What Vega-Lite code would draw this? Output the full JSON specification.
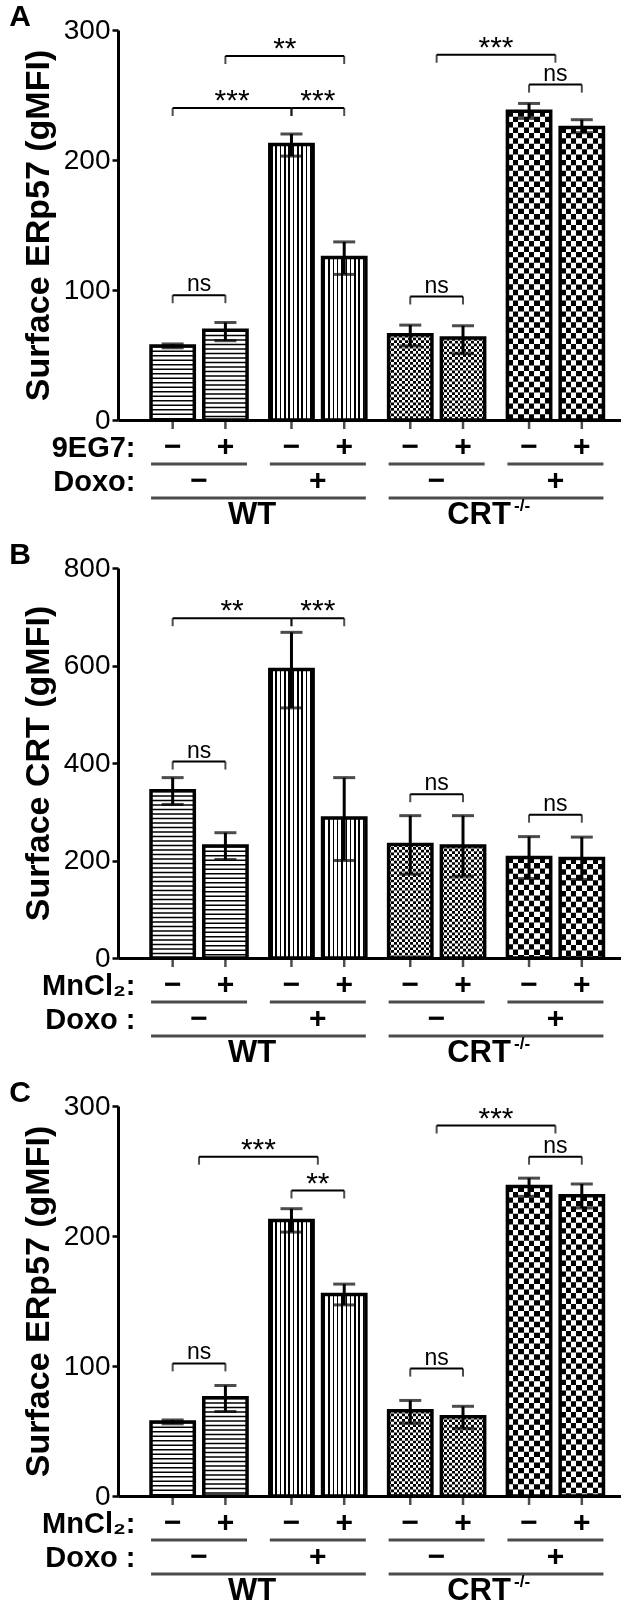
{
"$schema":"https://vega.github.io/schema/vega-lite/v6.json",
"padding":{"left":9,"top":2,"right":0,"bottom":0},
"spacing":0,
"bounds":"flush",
"background":"#ffffff",
"datasets":{
"bars":[
{"panel":"A","grp":"W0","trt":"−","doxo":"−","mean":57,"lo":55.5,"hi":58.5},
{"panel":"A","grp":"W0","trt":"+","doxo":"−","mean":69,"lo":61,"hi":75},
{"panel":"A","grp":"W1","trt":"−","doxo":"+","mean":212,"lo":203,"hi":220},
{"panel":"A","grp":"W1","trt":"+","doxo":"+","mean":125,"lo":112,"hi":137},
{"panel":"A","grp":"K0","trt":"−","doxo":"−","mean":65.5,"lo":57,"hi":73},
{"panel":"A","grp":"K0","trt":"+","doxo":"−","mean":63,"lo":51,"hi":72.5},
{"panel":"A","grp":"K1","trt":"−","doxo":"+","mean":237.5,"lo":232,"hi":243.5},
{"panel":"A","grp":"K1","trt":"+","doxo":"+","mean":225,"lo":221,"hi":231},
{"panel":"B","grp":"W0","trt":"−","doxo":"−","mean":343,"lo":315,"hi":370},
{"panel":"B","grp":"W0","trt":"+","doxo":"−","mean":230,"lo":202,"hi":257},
{"panel":"B","grp":"W1","trt":"−","doxo":"+","mean":592,"lo":513,"hi":668},
{"panel":"B","grp":"W1","trt":"+","doxo":"+","mean":287,"lo":200,"hi":370},
{"panel":"B","grp":"K0","trt":"−","doxo":"−","mean":233,"lo":172,"hi":292},
{"panel":"B","grp":"K0","trt":"+","doxo":"−","mean":230,"lo":168,"hi":292},
{"panel":"B","grp":"K1","trt":"−","doxo":"+","mean":206,"lo":163,"hi":249},
{"panel":"B","grp":"K1","trt":"+","doxo":"+","mean":204,"lo":161,"hi":248},
{"panel":"C","grp":"W0","trt":"−","doxo":"−","mean":57,"lo":55.5,"hi":58.5},
{"panel":"C","grp":"W0","trt":"+","doxo":"−","mean":75.5,"lo":65,"hi":85},
{"panel":"C","grp":"W1","trt":"−","doxo":"+","mean":212,"lo":203,"hi":221},
{"panel":"C","grp":"W1","trt":"+","doxo":"+","mean":155,"lo":147,"hi":163},
{"panel":"C","grp":"K0","trt":"−","doxo":"−","mean":65.5,"lo":56,"hi":73.5},
{"panel":"C","grp":"K0","trt":"+","doxo":"−","mean":61,"lo":52,"hi":69},
{"panel":"C","grp":"K1","trt":"−","doxo":"+","mean":238,"lo":230.5,"hi":244.5},
{"panel":"C","grp":"K1","trt":"+","doxo":"+","mean":231,"lo":221.5,"hi":240}
],
"ends":[
{"panel":"A","id":"a1","g":"W0","a":"−","h":96},{"panel":"A","id":"a1","g":"W0","a":"+","h":96},
{"panel":"A","id":"a2","g":"W0","a":"−","h":240},{"panel":"A","id":"a2","g":"W1","a":"−","h":240},
{"panel":"A","id":"a3","g":"W1","a":"−","h":240},{"panel":"A","id":"a3","g":"W1","a":"+","h":240},
{"panel":"A","id":"a4","g":"W0","a":"+","h":280},{"panel":"A","id":"a4","g":"W1","a":"+","h":280},
{"panel":"A","id":"a5","g":"K0","a":"−","h":95},{"panel":"A","id":"a5","g":"K0","a":"+","h":95},
{"panel":"A","id":"a6","g":"K0","a":"c","h":281},{"panel":"A","id":"a6","g":"K1","a":"c","h":281},
{"panel":"A","id":"a7","g":"K1","a":"−","h":258},{"panel":"A","id":"a7","g":"K1","a":"+","h":258},
{"panel":"B","id":"b1","g":"W0","a":"−","h":403},{"panel":"B","id":"b1","g":"W0","a":"+","h":403},
{"panel":"B","id":"b2","g":"W0","a":"−","h":697},{"panel":"B","id":"b2","g":"W1","a":"−","h":697},
{"panel":"B","id":"b3","g":"W1","a":"−","h":697},{"panel":"B","id":"b3","g":"W1","a":"+","h":697},
{"panel":"B","id":"b4","g":"K0","a":"−","h":336},{"panel":"B","id":"b4","g":"K0","a":"+","h":336},
{"panel":"B","id":"b5","g":"K1","a":"−","h":294},{"panel":"B","id":"b5","g":"K1","a":"+","h":294},
{"panel":"C","id":"c1","g":"W0","a":"−","h":102},{"panel":"C","id":"c1","g":"W0","a":"+","h":102},
{"panel":"C","id":"c2","g":"W0","a":"c","h":261},{"panel":"C","id":"c2","g":"W1","a":"c","h":261},
{"panel":"C","id":"c3","g":"W1","a":"−","h":235},{"panel":"C","id":"c3","g":"W1","a":"+","h":235},
{"panel":"C","id":"c4","g":"K0","a":"−","h":98},{"panel":"C","id":"c4","g":"K0","a":"+","h":98},
{"panel":"C","id":"c5","g":"K0","a":"c","h":285},{"panel":"C","id":"c5","g":"K1","a":"c","h":285},
{"panel":"C","id":"c6","g":"K1","a":"−","h":261},{"panel":"C","id":"c6","g":"K1","a":"+","h":261}
],
"labs":[
{"panel":"A","g":"W0","a":"c","h":96,"lab":"ns","span":"in"},
{"panel":"A","g":"W0","a":"−","h":240,"lab":"***","span":"x"},
{"panel":"A","g":"W1","a":"c","h":240,"lab":"***","span":"in"},
{"panel":"A","g":"W0","a":"+","h":280,"lab":"**","span":"x"},
{"panel":"A","g":"K0","a":"c","h":95,"lab":"ns","span":"in"},
{"panel":"A","g":"K0","a":"c","h":281,"lab":"***","span":"x"},
{"panel":"A","g":"K1","a":"c","h":258,"lab":"ns","span":"in"},
{"panel":"B","g":"W0","a":"c","h":403,"lab":"ns","span":"in"},
{"panel":"B","g":"W0","a":"−","h":697,"lab":"**","span":"x"},
{"panel":"B","g":"W1","a":"c","h":697,"lab":"***","span":"in"},
{"panel":"B","g":"K0","a":"c","h":336,"lab":"ns","span":"in"},
{"panel":"B","g":"K1","a":"c","h":294,"lab":"ns","span":"in"},
{"panel":"C","g":"W0","a":"c","h":102,"lab":"ns","span":"in"},
{"panel":"C","g":"W0","a":"c","h":261,"lab":"***","span":"x"},
{"panel":"C","g":"W1","a":"c","h":235,"lab":"**","span":"in"},
{"panel":"C","g":"K0","a":"c","h":98,"lab":"ns","span":"in"},
{"panel":"C","g":"K0","a":"c","h":285,"lab":"***","span":"x"},
{"panel":"C","g":"K1","a":"c","h":261,"lab":"ns","span":"in"}
],
"genos":[
{"geno":"WT","g1":"W0","g2":"W1","lab":"WT"},
{"geno":"KO","g1":"K0","g2":"K1","lab":"CRT","sup":"-/-"}
]
},
"vconcat":[
{"width":503,"height":390,"title":{"text":"A"},
"layer":[
{"data":{"name":"bars"},"transform":[{"filter":"datum.panel=='A'"}],"mark":{"type":"bar","fill":"#fff"},
"encoding":{"x":{"field":"grp","type":"nominal","title":null,"scale":{"domain":["W0","W1","K0","K1"],"paddingInner":0.1915,"paddingOuter":0.2128,"align":0.653}},
"xOffset":{"field":"trt","type":"nominal","scale":{"domain":["−","+"],"paddingInner":0.1791,"paddingOuter":0}},
"y":{"field":"mean","type":"quantitative","scale":{"domain":[0,300],"nice":false},"axis":{"title":"Surface ERp57 (gMFI)","values":[0,100,200,300]}}}},
{"data":{"name":"bars"},"transform":[{"filter":"datum.panel=='A' && datum.grp=='W0'"}],"mark":{"type":"rule","color":"#000","strokeWidth":43.3,"strokeDash":[1.5,3.0]},
"encoding":{"x":{"field":"grp","type":"nominal","title":null},"xOffset":{"field":"trt","type":"nominal"},"y":{"field":"mean","type":"quantitative"},"y2":{"datum":0}}},
{"data":{"name":"bars"},"transform":[{"filter":"datum.panel=='A' && datum.grp=='W1'"}],"mark":{"type":"bar","fill":{"gradient":"linear","x1":0,"y1":0,"x2":1,"y2":0,"stops":[{"offset":0.03,"color":"#fff"},{"offset":0.03,"color":"#000"},{"offset":0.065,"color":"#000"},{"offset":0.065,"color":"#fff"},{"offset":0.13,"color":"#fff"},{"offset":0.13,"color":"#000"},{"offset":0.165,"color":"#000"},{"offset":0.165,"color":"#fff"},{"offset":0.23,"color":"#fff"},{"offset":0.23,"color":"#000"},{"offset":0.265,"color":"#000"},{"offset":0.265,"color":"#fff"},{"offset":0.33,"color":"#fff"},{"offset":0.33,"color":"#000"},{"offset":0.365,"color":"#000"},{"offset":0.365,"color":"#fff"},{"offset":0.43,"color":"#fff"},{"offset":0.43,"color":"#000"},{"offset":0.465,"color":"#000"},{"offset":0.465,"color":"#fff"},{"offset":0.53,"color":"#fff"},{"offset":0.53,"color":"#000"},{"offset":0.565,"color":"#000"},{"offset":0.565,"color":"#fff"},{"offset":0.63,"color":"#fff"},{"offset":0.63,"color":"#000"},{"offset":0.665,"color":"#000"},{"offset":0.665,"color":"#fff"},{"offset":0.73,"color":"#fff"},{"offset":0.73,"color":"#000"},{"offset":0.765,"color":"#000"},{"offset":0.765,"color":"#fff"},{"offset":0.83,"color":"#fff"},{"offset":0.83,"color":"#000"},{"offset":0.865,"color":"#000"},{"offset":0.865,"color":"#fff"},{"offset":0.93,"color":"#fff"},{"offset":0.93,"color":"#000"},{"offset":0.965,"color":"#000"},{"offset":0.965,"color":"#fff"}]}},
"encoding":{"x":{"field":"grp","type":"nominal","title":null},"xOffset":{"field":"trt","type":"nominal"},"y":{"field":"mean","type":"quantitative"}}},
{"data":{"name":"bars"},"transform":[{"filter":"datum.panel=='A' && datum.grp=='K0'"}],"mark":{"type":"rule","color":"#000","strokeWidth":43.3,"strokeDash":[2.71,2.71]},
"encoding":{"x":{"field":"grp","type":"nominal","title":null},"xOffset":{"field":"trt","type":"nominal"},"y":{"field":"mean","type":"quantitative"},"y2":{"datum":0}}},
{"data":{"name":"bars"},"transform":[{"filter":"datum.panel=='A' && datum.grp=='K0'"}],"mark":{"type":"bar","blend":"difference","fill":{"gradient":"linear","x1":0,"y1":0,"x2":1,"y2":0,"stops":[{"offset":0,"color":"#000"},{"offset":0.0625,"color":"#000"},{"offset":0.0625,"color":"#fff"},{"offset":0.125,"color":"#fff"},{"offset":0.125,"color":"#000"},{"offset":0.1875,"color":"#000"},{"offset":0.1875,"color":"#fff"},{"offset":0.25,"color":"#fff"},{"offset":0.25,"color":"#000"},{"offset":0.3125,"color":"#000"},{"offset":0.3125,"color":"#fff"},{"offset":0.375,"color":"#fff"},{"offset":0.375,"color":"#000"},{"offset":0.4375,"color":"#000"},{"offset":0.4375,"color":"#fff"},{"offset":0.5,"color":"#fff"},{"offset":0.5,"color":"#000"},{"offset":0.5625,"color":"#000"},{"offset":0.5625,"color":"#fff"},{"offset":0.625,"color":"#fff"},{"offset":0.625,"color":"#000"},{"offset":0.6875,"color":"#000"},{"offset":0.6875,"color":"#fff"},{"offset":0.75,"color":"#fff"},{"offset":0.75,"color":"#000"},{"offset":0.8125,"color":"#000"},{"offset":0.8125,"color":"#fff"},{"offset":0.875,"color":"#fff"},{"offset":0.875,"color":"#000"},{"offset":0.9375,"color":"#000"},{"offset":0.9375,"color":"#fff"},{"offset":1,"color":"#fff"}]}},
"encoding":{"x":{"field":"grp","type":"nominal","title":null},"xOffset":{"field":"trt","type":"nominal"},"y":{"field":"mean","type":"quantitative"}}},
{"data":{"name":"bars"},"transform":[{"filter":"datum.panel=='A' && datum.grp=='K1'"}],"mark":{"type":"rule","color":"#000","strokeWidth":43.3,"strokeDash":[5.41,5.41]},
"encoding":{"x":{"field":"grp","type":"nominal","title":null},"xOffset":{"field":"trt","type":"nominal"},"y":{"field":"mean","type":"quantitative"},"y2":{"datum":0}}},
{"data":{"name":"bars"},"transform":[{"filter":"datum.panel=='A' && datum.grp=='K1'"}],"mark":{"type":"bar","blend":"difference","fill":{"gradient":"linear","x1":0,"y1":0,"x2":1,"y2":0,"stops":[{"offset":0,"color":"#000"},{"offset":0.125,"color":"#000"},{"offset":0.125,"color":"#fff"},{"offset":0.25,"color":"#fff"},{"offset":0.25,"color":"#000"},{"offset":0.375,"color":"#000"},{"offset":0.375,"color":"#fff"},{"offset":0.5,"color":"#fff"},{"offset":0.5,"color":"#000"},{"offset":0.625,"color":"#000"},{"offset":0.625,"color":"#fff"},{"offset":0.75,"color":"#fff"},{"offset":0.75,"color":"#000"},{"offset":0.875,"color":"#000"},{"offset":0.875,"color":"#fff"},{"offset":1,"color":"#fff"}]}},
"encoding":{"x":{"field":"grp","type":"nominal","title":null},"xOffset":{"field":"trt","type":"nominal"},"y":{"field":"mean","type":"quantitative"}}},
{"data":{"name":"bars"},"transform":[{"filter":"datum.panel=='A'"}],"mark":{"type":"bar","fillOpacity":0,"stroke":"#000","strokeWidth":3.5},
"encoding":{"x":{"field":"grp","type":"nominal","title":null},"xOffset":{"field":"trt","type":"nominal"},"y":{"field":"mean","type":"quantitative"}}},
{"data":{"name":"bars"},"transform":[{"filter":"datum.panel=='A'"}],"mark":{"type":"rule","color":"#000","strokeWidth":3},
"encoding":{"x":{"field":"grp","type":"nominal","title":null},"xOffset":{"field":"trt","type":"nominal"},"y":{"field":"lo","type":"quantitative"},"y2":{"field":"hi"}}},
{"data":{"name":"bars"},"transform":[{"filter":"datum.panel=='A'"}],"mark":{"type":"tick","orient":"horizontal","color":"#000","size":22,"thickness":3},
"encoding":{"x":{"field":"grp","type":"nominal","title":null},"xOffset":{"field":"trt","type":"nominal"},"y":{"field":"hi","type":"quantitative"}}},
{"data":{"name":"bars"},"transform":[{"filter":"datum.panel=='A'"}],"mark":{"type":"tick","orient":"horizontal","color":"#000","size":22,"thickness":3},
"encoding":{"x":{"field":"grp","type":"nominal","title":null},"xOffset":{"field":"trt","type":"nominal"},"y":{"field":"lo","type":"quantitative"}}},
{"data":{"name":"bars"},"transform":[{"filter":"datum.panel=='A'"}],"mark":{"type":"tick","orient":"vertical","color":"#000","size":9,"thickness":2.5,"yOffset":4.5},
"encoding":{"x":{"field":"grp","type":"nominal","title":null},"xOffset":{"field":"trt","type":"nominal"},"y":{"datum":0}}},
{"data":{"name":"ends"},"transform":[{"filter":"datum.panel=='A' && datum.a!='c'"}],"mark":{"type":"line","color":"#000","strokeWidth":2},
"encoding":{"x":{"field":"g","type":"nominal","title":null},"xOffset":{"field":"a","type":"nominal"},"y":{"field":"h","type":"quantitative"},"detail":{"field":"id"}}},
{"data":{"name":"ends"},"transform":[{"filter":"datum.panel=='A' && datum.a=='c'"}],"mark":{"type":"line","color":"#000","strokeWidth":2},
"encoding":{"x":{"field":"g","type":"nominal","title":null},"y":{"field":"h","type":"quantitative"},"detail":{"field":"id"}}},
{"data":{"name":"ends"},"transform":[{"filter":"datum.panel=='A' && datum.a!='c'"}],"mark":{"type":"tick","orient":"vertical","color":"#000","size":8,"thickness":2,"yOffset":4},
"encoding":{"x":{"field":"g","type":"nominal","title":null},"xOffset":{"field":"a","type":"nominal"},"y":{"field":"h","type":"quantitative"}}},
{"data":{"name":"ends"},"transform":[{"filter":"datum.panel=='A' && datum.a=='c'"}],"mark":{"type":"tick","orient":"vertical","color":"#000","size":8,"thickness":2,"yOffset":4},
"encoding":{"x":{"field":"g","type":"nominal","title":null},"y":{"field":"h","type":"quantitative"}}},
{"data":{"name":"labs"},"transform":[{"filter":"datum.panel=='A' && datum.lab=='ns'"}],"mark":{"type":"text","font":"Liberation Sans","fontSize":23,"color":"#000","baseline":"alphabetic","dy":-4},
"encoding":{"x":{"field":"g","type":"nominal","title":null},"y":{"field":"h","type":"quantitative"},"text":{"field":"lab"}}},
{"data":{"name":"labs"},"transform":[{"filter":"datum.panel=='A' && datum.lab!='ns' && datum.span=='in'"}],"mark":{"type":"text","font":"Liberation Sans","fontSize":30,"color":"#000","baseline":"alphabetic","dy":2},
"encoding":{"x":{"field":"g","type":"nominal","title":null},"y":{"field":"h","type":"quantitative"},"text":{"field":"lab"}}},
{"data":{"name":"labs"},"transform":[{"filter":"datum.panel=='A' && datum.span=='x' && datum.a!='c'"}],"mark":{"type":"text","font":"Liberation Sans","fontSize":30,"color":"#000","baseline":"alphabetic","dy":2,"dx":59.4},
"encoding":{"x":{"field":"g","type":"nominal","title":null},"xOffset":{"field":"a","type":"nominal"},"y":{"field":"h","type":"quantitative"},"text":{"field":"lab"}}},
{"data":{"name":"labs"},"transform":[{"filter":"datum.panel=='A' && datum.span=='x' && datum.a=='c'"}],"mark":{"type":"text","font":"Liberation Sans","fontSize":30,"color":"#000","baseline":"alphabetic","dy":2,"dx":59.4},
"encoding":{"x":{"field":"g","type":"nominal","title":null},"y":{"field":"h","type":"quantitative"},"text":{"field":"lab"}}}
]},
{"width":503,"height":148,
"layer":[
{"data":{"name":"bars"},"transform":[{"filter":"datum.panel=='A'"}],"mark":{"type":"text","font":"Liberation Sans","fontWeight":"bold","fontSize":30,"color":"#000","baseline":"middle"},
"encoding":{"x":{"field":"grp","type":"nominal","axis":null,"scale":{"domain":["W0","W1","K0","K1"],"paddingInner":0.1915,"paddingOuter":0.2128,"align":0.653}},
"xOffset":{"field":"trt","type":"nominal","scale":{"domain":["−","+"],"paddingInner":0.1791,"paddingOuter":0}},
"y":{"datum":"r1","type":"nominal","scale":{"type":"point","domain":["r1","l1","r2","l2","r3","z1","z2","z3"],"padding":0.853,"align":0.931},"axis":{"title":null,"domain":false,"ticks":false,"labelExpr":"datum.value=='r1'?'9EG7:':datum.value=='r2'?'Doxo:':''","labelFontWeight":"bold","labelFontSize":29,"labelPadding":-17}},
"text":{"field":"trt"}}},
{"data":{"name":"bars"},"transform":[{"filter":"datum.panel=='A' && datum.trt=='−'"}],"mark":{"type":"tick","orient":"horizontal","color":"#000","size":96,"thickness":3},
"encoding":{"x":{"field":"grp","type":"nominal","axis":null},"y":{"datum":"l1","type":"nominal"}}},
{"data":{"name":"bars"},"transform":[{"filter":"datum.panel=='A' && datum.trt=='−'"}],"mark":{"type":"text","font":"Liberation Sans","fontWeight":"bold","fontSize":30,"color":"#000","baseline":"middle"},
"encoding":{"x":{"field":"grp","type":"nominal","axis":null},"y":{"datum":"r2","type":"nominal"},"text":{"field":"doxo"}}},
{"data":{"name":"genos"},"mark":{"type":"tick","orient":"horizontal","color":"#000","size":214.8,"thickness":3,"xOffset":59.4},
"encoding":{"x":{"field":"g1","type":"nominal","axis":null},"y":{"datum":"l2","type":"nominal"}}},
{"data":{"name":"genos"},"transform":[{"filter":"datum.geno=='WT'"}],"mark":{"type":"text","font":"Liberation Sans","fontWeight":"bold","fontSize":31,"color":"#000","baseline":"middle","dx":53},
"encoding":{"x":{"field":"g1","type":"nominal","axis":null},"y":{"datum":"r3","type":"nominal"},"text":{"field":"lab"}}},
{"data":{"name":"genos"},"transform":[{"filter":"datum.geno=='KO'"}],"mark":{"type":"text","font":"Liberation Sans","fontWeight":"bold","fontSize":31,"color":"#000","baseline":"middle","dx":42.4},
"encoding":{"x":{"field":"g1","type":"nominal","axis":null},"y":{"datum":"r3","type":"nominal"},"text":{"field":"lab"}}},
{"data":{"name":"genos"},"transform":[{"filter":"datum.geno=='KO'"}],"mark":{"type":"text","font":"Liberation Sans","fontWeight":"bold","fontSize":17,"color":"#000","baseline":"middle","align":"left","dx":77.4,"dy":-9},
"encoding":{"x":{"field":"g1","type":"nominal","axis":null},"y":{"datum":"r3","type":"nominal"},"text":{"field":"sup"}}}
]},
{"width":503,"height":390,"title":{"text":"B"},
"layer":[
{"data":{"name":"bars"},"transform":[{"filter":"datum.panel=='B'"}],"mark":{"type":"bar","fill":"#fff"},
"encoding":{"x":{"field":"grp","type":"nominal","title":null,"scale":{"domain":["W0","W1","K0","K1"],"paddingInner":0.1915,"paddingOuter":0.2128,"align":0.653}},
"xOffset":{"field":"trt","type":"nominal","scale":{"domain":["−","+"],"paddingInner":0.1791,"paddingOuter":0}},
"y":{"field":"mean","type":"quantitative","scale":{"domain":[0,800],"nice":false},"axis":{"title":"Surface CRT (gMFI)","values":[0,200,400,600,800]}}}},
{"data":{"name":"bars"},"transform":[{"filter":"datum.panel=='B' && datum.grp=='W0'"}],"mark":{"type":"rule","color":"#000","strokeWidth":43.3,"strokeDash":[1.5,3.0]},
"encoding":{"x":{"field":"grp","type":"nominal","title":null},"xOffset":{"field":"trt","type":"nominal"},"y":{"field":"mean","type":"quantitative"},"y2":{"datum":0}}},
{"data":{"name":"bars"},"transform":[{"filter":"datum.panel=='B' && datum.grp=='W1'"}],"mark":{"type":"bar","fill":{"gradient":"linear","x1":0,"y1":0,"x2":1,"y2":0,"stops":[{"offset":0.03,"color":"#fff"},{"offset":0.03,"color":"#000"},{"offset":0.065,"color":"#000"},{"offset":0.065,"color":"#fff"},{"offset":0.13,"color":"#fff"},{"offset":0.13,"color":"#000"},{"offset":0.165,"color":"#000"},{"offset":0.165,"color":"#fff"},{"offset":0.23,"color":"#fff"},{"offset":0.23,"color":"#000"},{"offset":0.265,"color":"#000"},{"offset":0.265,"color":"#fff"},{"offset":0.33,"color":"#fff"},{"offset":0.33,"color":"#000"},{"offset":0.365,"color":"#000"},{"offset":0.365,"color":"#fff"},{"offset":0.43,"color":"#fff"},{"offset":0.43,"color":"#000"},{"offset":0.465,"color":"#000"},{"offset":0.465,"color":"#fff"},{"offset":0.53,"color":"#fff"},{"offset":0.53,"color":"#000"},{"offset":0.565,"color":"#000"},{"offset":0.565,"color":"#fff"},{"offset":0.63,"color":"#fff"},{"offset":0.63,"color":"#000"},{"offset":0.665,"color":"#000"},{"offset":0.665,"color":"#fff"},{"offset":0.73,"color":"#fff"},{"offset":0.73,"color":"#000"},{"offset":0.765,"color":"#000"},{"offset":0.765,"color":"#fff"},{"offset":0.83,"color":"#fff"},{"offset":0.83,"color":"#000"},{"offset":0.865,"color":"#000"},{"offset":0.865,"color":"#fff"},{"offset":0.93,"color":"#fff"},{"offset":0.93,"color":"#000"},{"offset":0.965,"color":"#000"},{"offset":0.965,"color":"#fff"}]}},
"encoding":{"x":{"field":"grp","type":"nominal","title":null},"xOffset":{"field":"trt","type":"nominal"},"y":{"field":"mean","type":"quantitative"}}},
{"data":{"name":"bars"},"transform":[{"filter":"datum.panel=='B' && datum.grp=='K0'"}],"mark":{"type":"rule","color":"#000","strokeWidth":43.3,"strokeDash":[2.71,2.71]},
"encoding":{"x":{"field":"grp","type":"nominal","title":null},"xOffset":{"field":"trt","type":"nominal"},"y":{"field":"mean","type":"quantitative"},"y2":{"datum":0}}},
{"data":{"name":"bars"},"transform":[{"filter":"datum.panel=='B' && datum.grp=='K0'"}],"mark":{"type":"bar","blend":"difference","fill":{"gradient":"linear","x1":0,"y1":0,"x2":1,"y2":0,"stops":[{"offset":0,"color":"#000"},{"offset":0.0625,"color":"#000"},{"offset":0.0625,"color":"#fff"},{"offset":0.125,"color":"#fff"},{"offset":0.125,"color":"#000"},{"offset":0.1875,"color":"#000"},{"offset":0.1875,"color":"#fff"},{"offset":0.25,"color":"#fff"},{"offset":0.25,"color":"#000"},{"offset":0.3125,"color":"#000"},{"offset":0.3125,"color":"#fff"},{"offset":0.375,"color":"#fff"},{"offset":0.375,"color":"#000"},{"offset":0.4375,"color":"#000"},{"offset":0.4375,"color":"#fff"},{"offset":0.5,"color":"#fff"},{"offset":0.5,"color":"#000"},{"offset":0.5625,"color":"#000"},{"offset":0.5625,"color":"#fff"},{"offset":0.625,"color":"#fff"},{"offset":0.625,"color":"#000"},{"offset":0.6875,"color":"#000"},{"offset":0.6875,"color":"#fff"},{"offset":0.75,"color":"#fff"},{"offset":0.75,"color":"#000"},{"offset":0.8125,"color":"#000"},{"offset":0.8125,"color":"#fff"},{"offset":0.875,"color":"#fff"},{"offset":0.875,"color":"#000"},{"offset":0.9375,"color":"#000"},{"offset":0.9375,"color":"#fff"},{"offset":1,"color":"#fff"}]}},
"encoding":{"x":{"field":"grp","type":"nominal","title":null},"xOffset":{"field":"trt","type":"nominal"},"y":{"field":"mean","type":"quantitative"}}},
{"data":{"name":"bars"},"transform":[{"filter":"datum.panel=='B' && datum.grp=='K1'"}],"mark":{"type":"rule","color":"#000","strokeWidth":43.3,"strokeDash":[5.41,5.41]},
"encoding":{"x":{"field":"grp","type":"nominal","title":null},"xOffset":{"field":"trt","type":"nominal"},"y":{"field":"mean","type":"quantitative"},"y2":{"datum":0}}},
{"data":{"name":"bars"},"transform":[{"filter":"datum.panel=='B' && datum.grp=='K1'"}],"mark":{"type":"bar","blend":"difference","fill":{"gradient":"linear","x1":0,"y1":0,"x2":1,"y2":0,"stops":[{"offset":0,"color":"#000"},{"offset":0.125,"color":"#000"},{"offset":0.125,"color":"#fff"},{"offset":0.25,"color":"#fff"},{"offset":0.25,"color":"#000"},{"offset":0.375,"color":"#000"},{"offset":0.375,"color":"#fff"},{"offset":0.5,"color":"#fff"},{"offset":0.5,"color":"#000"},{"offset":0.625,"color":"#000"},{"offset":0.625,"color":"#fff"},{"offset":0.75,"color":"#fff"},{"offset":0.75,"color":"#000"},{"offset":0.875,"color":"#000"},{"offset":0.875,"color":"#fff"},{"offset":1,"color":"#fff"}]}},
"encoding":{"x":{"field":"grp","type":"nominal","title":null},"xOffset":{"field":"trt","type":"nominal"},"y":{"field":"mean","type":"quantitative"}}},
{"data":{"name":"bars"},"transform":[{"filter":"datum.panel=='B'"}],"mark":{"type":"bar","fillOpacity":0,"stroke":"#000","strokeWidth":3.5},
"encoding":{"x":{"field":"grp","type":"nominal","title":null},"xOffset":{"field":"trt","type":"nominal"},"y":{"field":"mean","type":"quantitative"}}},
{"data":{"name":"bars"},"transform":[{"filter":"datum.panel=='B'"}],"mark":{"type":"rule","color":"#000","strokeWidth":3},
"encoding":{"x":{"field":"grp","type":"nominal","title":null},"xOffset":{"field":"trt","type":"nominal"},"y":{"field":"lo","type":"quantitative"},"y2":{"field":"hi"}}},
{"data":{"name":"bars"},"transform":[{"filter":"datum.panel=='B'"}],"mark":{"type":"tick","orient":"horizontal","color":"#000","size":22,"thickness":3},
"encoding":{"x":{"field":"grp","type":"nominal","title":null},"xOffset":{"field":"trt","type":"nominal"},"y":{"field":"hi","type":"quantitative"}}},
{"data":{"name":"bars"},"transform":[{"filter":"datum.panel=='B'"}],"mark":{"type":"tick","orient":"horizontal","color":"#000","size":22,"thickness":3},
"encoding":{"x":{"field":"grp","type":"nominal","title":null},"xOffset":{"field":"trt","type":"nominal"},"y":{"field":"lo","type":"quantitative"}}},
{"data":{"name":"bars"},"transform":[{"filter":"datum.panel=='B'"}],"mark":{"type":"tick","orient":"vertical","color":"#000","size":9,"thickness":2.5,"yOffset":4.5},
"encoding":{"x":{"field":"grp","type":"nominal","title":null},"xOffset":{"field":"trt","type":"nominal"},"y":{"datum":0}}},
{"data":{"name":"ends"},"transform":[{"filter":"datum.panel=='B' && datum.a!='c'"}],"mark":{"type":"line","color":"#000","strokeWidth":2},
"encoding":{"x":{"field":"g","type":"nominal","title":null},"xOffset":{"field":"a","type":"nominal"},"y":{"field":"h","type":"quantitative"},"detail":{"field":"id"}}},
{"data":{"name":"ends"},"transform":[{"filter":"datum.panel=='B' && datum.a!='c'"}],"mark":{"type":"tick","orient":"vertical","color":"#000","size":8,"thickness":2,"yOffset":4},
"encoding":{"x":{"field":"g","type":"nominal","title":null},"xOffset":{"field":"a","type":"nominal"},"y":{"field":"h","type":"quantitative"}}},
{"data":{"name":"labs"},"transform":[{"filter":"datum.panel=='B' && datum.lab=='ns'"}],"mark":{"type":"text","font":"Liberation Sans","fontSize":23,"color":"#000","baseline":"alphabetic","dy":-4},
"encoding":{"x":{"field":"g","type":"nominal","title":null},"y":{"field":"h","type":"quantitative"},"text":{"field":"lab"}}},
{"data":{"name":"labs"},"transform":[{"filter":"datum.panel=='B' && datum.lab!='ns' && datum.span=='in'"}],"mark":{"type":"text","font":"Liberation Sans","fontSize":30,"color":"#000","baseline":"alphabetic","dy":2},
"encoding":{"x":{"field":"g","type":"nominal","title":null},"y":{"field":"h","type":"quantitative"},"text":{"field":"lab"}}},
{"data":{"name":"labs"},"transform":[{"filter":"datum.panel=='B' && datum.span=='x' && datum.a!='c'"}],"mark":{"type":"text","font":"Liberation Sans","fontSize":30,"color":"#000","baseline":"alphabetic","dy":2,"dx":59.4},
"encoding":{"x":{"field":"g","type":"nominal","title":null},"xOffset":{"field":"a","type":"nominal"},"y":{"field":"h","type":"quantitative"},"text":{"field":"lab"}}}
]},
{"width":503,"height":148,
"layer":[
{"data":{"name":"bars"},"transform":[{"filter":"datum.panel=='B'"}],"mark":{"type":"text","font":"Liberation Sans","fontWeight":"bold","fontSize":30,"color":"#000","baseline":"middle"},
"encoding":{"x":{"field":"grp","type":"nominal","axis":null,"scale":{"domain":["W0","W1","K0","K1"],"paddingInner":0.1915,"paddingOuter":0.2128,"align":0.653}},
"xOffset":{"field":"trt","type":"nominal","scale":{"domain":["−","+"],"paddingInner":0.1791,"paddingOuter":0}},
"y":{"datum":"r1","type":"nominal","scale":{"type":"point","domain":["r1","l1","r2","l2","r3","z1","z2","z3"],"padding":0.853,"align":0.931},"axis":{"title":null,"domain":false,"ticks":false,"labelExpr":"datum.value=='r1'?'MnCl₂:':datum.value=='r2'?'Doxo :':''","labelFontWeight":"bold","labelFontSize":29,"labelPadding":-17}},
"text":{"field":"trt"}}},
{"data":{"name":"bars"},"transform":[{"filter":"datum.panel=='B' && datum.trt=='−'"}],"mark":{"type":"tick","orient":"horizontal","color":"#000","size":96,"thickness":3},
"encoding":{"x":{"field":"grp","type":"nominal","axis":null},"y":{"datum":"l1","type":"nominal"}}},
{"data":{"name":"bars"},"transform":[{"filter":"datum.panel=='B' && datum.trt=='−'"}],"mark":{"type":"text","font":"Liberation Sans","fontWeight":"bold","fontSize":30,"color":"#000","baseline":"middle"},
"encoding":{"x":{"field":"grp","type":"nominal","axis":null},"y":{"datum":"r2","type":"nominal"},"text":{"field":"doxo"}}},
{"data":{"name":"genos"},"mark":{"type":"tick","orient":"horizontal","color":"#000","size":214.8,"thickness":3,"xOffset":59.4},
"encoding":{"x":{"field":"g1","type":"nominal","axis":null},"y":{"datum":"l2","type":"nominal"}}},
{"data":{"name":"genos"},"transform":[{"filter":"datum.geno=='WT'"}],"mark":{"type":"text","font":"Liberation Sans","fontWeight":"bold","fontSize":31,"color":"#000","baseline":"middle","dx":53},
"encoding":{"x":{"field":"g1","type":"nominal","axis":null},"y":{"datum":"r3","type":"nominal"},"text":{"field":"lab"}}},
{"data":{"name":"genos"},"transform":[{"filter":"datum.geno=='KO'"}],"mark":{"type":"text","font":"Liberation Sans","fontWeight":"bold","fontSize":31,"color":"#000","baseline":"middle","dx":42.4},
"encoding":{"x":{"field":"g1","type":"nominal","axis":null},"y":{"datum":"r3","type":"nominal"},"text":{"field":"lab"}}},
{"data":{"name":"genos"},"transform":[{"filter":"datum.geno=='KO'"}],"mark":{"type":"text","font":"Liberation Sans","fontWeight":"bold","fontSize":17,"color":"#000","baseline":"middle","align":"left","dx":77.4,"dy":-9},
"encoding":{"x":{"field":"g1","type":"nominal","axis":null},"y":{"datum":"r3","type":"nominal"},"text":{"field":"sup"}}}
]},
{"width":503,"height":390,"title":{"text":"C"},
"layer":[
{"data":{"name":"bars"},"transform":[{"filter":"datum.panel=='C'"}],"mark":{"type":"bar","fill":"#fff"},
"encoding":{"x":{"field":"grp","type":"nominal","title":null,"scale":{"domain":["W0","W1","K0","K1"],"paddingInner":0.1915,"paddingOuter":0.2128,"align":0.653}},
"xOffset":{"field":"trt","type":"nominal","scale":{"domain":["−","+"],"paddingInner":0.1791,"paddingOuter":0}},
"y":{"field":"mean","type":"quantitative","scale":{"domain":[0,300],"nice":false},"axis":{"title":"Surface ERp57 (gMFI)","values":[0,100,200,300]}}}},
{"data":{"name":"bars"},"transform":[{"filter":"datum.panel=='C' && datum.grp=='W0'"}],"mark":{"type":"rule","color":"#000","strokeWidth":43.3,"strokeDash":[1.5,3.0]},
"encoding":{"x":{"field":"grp","type":"nominal","title":null},"xOffset":{"field":"trt","type":"nominal"},"y":{"field":"mean","type":"quantitative"},"y2":{"datum":0}}},
{"data":{"name":"bars"},"transform":[{"filter":"datum.panel=='C' && datum.grp=='W1'"}],"mark":{"type":"bar","fill":{"gradient":"linear","x1":0,"y1":0,"x2":1,"y2":0,"stops":[{"offset":0.03,"color":"#fff"},{"offset":0.03,"color":"#000"},{"offset":0.065,"color":"#000"},{"offset":0.065,"color":"#fff"},{"offset":0.13,"color":"#fff"},{"offset":0.13,"color":"#000"},{"offset":0.165,"color":"#000"},{"offset":0.165,"color":"#fff"},{"offset":0.23,"color":"#fff"},{"offset":0.23,"color":"#000"},{"offset":0.265,"color":"#000"},{"offset":0.265,"color":"#fff"},{"offset":0.33,"color":"#fff"},{"offset":0.33,"color":"#000"},{"offset":0.365,"color":"#000"},{"offset":0.365,"color":"#fff"},{"offset":0.43,"color":"#fff"},{"offset":0.43,"color":"#000"},{"offset":0.465,"color":"#000"},{"offset":0.465,"color":"#fff"},{"offset":0.53,"color":"#fff"},{"offset":0.53,"color":"#000"},{"offset":0.565,"color":"#000"},{"offset":0.565,"color":"#fff"},{"offset":0.63,"color":"#fff"},{"offset":0.63,"color":"#000"},{"offset":0.665,"color":"#000"},{"offset":0.665,"color":"#fff"},{"offset":0.73,"color":"#fff"},{"offset":0.73,"color":"#000"},{"offset":0.765,"color":"#000"},{"offset":0.765,"color":"#fff"},{"offset":0.83,"color":"#fff"},{"offset":0.83,"color":"#000"},{"offset":0.865,"color":"#000"},{"offset":0.865,"color":"#fff"},{"offset":0.93,"color":"#fff"},{"offset":0.93,"color":"#000"},{"offset":0.965,"color":"#000"},{"offset":0.965,"color":"#fff"}]}},
"encoding":{"x":{"field":"grp","type":"nominal","title":null},"xOffset":{"field":"trt","type":"nominal"},"y":{"field":"mean","type":"quantitative"}}},
{"data":{"name":"bars"},"transform":[{"filter":"datum.panel=='C' && datum.grp=='K0'"}],"mark":{"type":"rule","color":"#000","strokeWidth":43.3,"strokeDash":[2.71,2.71]},
"encoding":{"x":{"field":"grp","type":"nominal","title":null},"xOffset":{"field":"trt","type":"nominal"},"y":{"field":"mean","type":"quantitative"},"y2":{"datum":0}}},
{"data":{"name":"bars"},"transform":[{"filter":"datum.panel=='C' && datum.grp=='K0'"}],"mark":{"type":"bar","blend":"difference","fill":{"gradient":"linear","x1":0,"y1":0,"x2":1,"y2":0,"stops":[{"offset":0,"color":"#000"},{"offset":0.0625,"color":"#000"},{"offset":0.0625,"color":"#fff"},{"offset":0.125,"color":"#fff"},{"offset":0.125,"color":"#000"},{"offset":0.1875,"color":"#000"},{"offset":0.1875,"color":"#fff"},{"offset":0.25,"color":"#fff"},{"offset":0.25,"color":"#000"},{"offset":0.3125,"color":"#000"},{"offset":0.3125,"color":"#fff"},{"offset":0.375,"color":"#fff"},{"offset":0.375,"color":"#000"},{"offset":0.4375,"color":"#000"},{"offset":0.4375,"color":"#fff"},{"offset":0.5,"color":"#fff"},{"offset":0.5,"color":"#000"},{"offset":0.5625,"color":"#000"},{"offset":0.5625,"color":"#fff"},{"offset":0.625,"color":"#fff"},{"offset":0.625,"color":"#000"},{"offset":0.6875,"color":"#000"},{"offset":0.6875,"color":"#fff"},{"offset":0.75,"color":"#fff"},{"offset":0.75,"color":"#000"},{"offset":0.8125,"color":"#000"},{"offset":0.8125,"color":"#fff"},{"offset":0.875,"color":"#fff"},{"offset":0.875,"color":"#000"},{"offset":0.9375,"color":"#000"},{"offset":0.9375,"color":"#fff"},{"offset":1,"color":"#fff"}]}},
"encoding":{"x":{"field":"grp","type":"nominal","title":null},"xOffset":{"field":"trt","type":"nominal"},"y":{"field":"mean","type":"quantitative"}}},
{"data":{"name":"bars"},"transform":[{"filter":"datum.panel=='C' && datum.grp=='K1'"}],"mark":{"type":"rule","color":"#000","strokeWidth":43.3,"strokeDash":[5.41,5.41]},
"encoding":{"x":{"field":"grp","type":"nominal","title":null},"xOffset":{"field":"trt","type":"nominal"},"y":{"field":"mean","type":"quantitative"},"y2":{"datum":0}}},
{"data":{"name":"bars"},"transform":[{"filter":"datum.panel=='C' && datum.grp=='K1'"}],"mark":{"type":"bar","blend":"difference","fill":{"gradient":"linear","x1":0,"y1":0,"x2":1,"y2":0,"stops":[{"offset":0,"color":"#000"},{"offset":0.125,"color":"#000"},{"offset":0.125,"color":"#fff"},{"offset":0.25,"color":"#fff"},{"offset":0.25,"color":"#000"},{"offset":0.375,"color":"#000"},{"offset":0.375,"color":"#fff"},{"offset":0.5,"color":"#fff"},{"offset":0.5,"color":"#000"},{"offset":0.625,"color":"#000"},{"offset":0.625,"color":"#fff"},{"offset":0.75,"color":"#fff"},{"offset":0.75,"color":"#000"},{"offset":0.875,"color":"#000"},{"offset":0.875,"color":"#fff"},{"offset":1,"color":"#fff"}]}},
"encoding":{"x":{"field":"grp","type":"nominal","title":null},"xOffset":{"field":"trt","type":"nominal"},"y":{"field":"mean","type":"quantitative"}}},
{"data":{"name":"bars"},"transform":[{"filter":"datum.panel=='C'"}],"mark":{"type":"bar","fillOpacity":0,"stroke":"#000","strokeWidth":3.5},
"encoding":{"x":{"field":"grp","type":"nominal","title":null},"xOffset":{"field":"trt","type":"nominal"},"y":{"field":"mean","type":"quantitative"}}},
{"data":{"name":"bars"},"transform":[{"filter":"datum.panel=='C'"}],"mark":{"type":"rule","color":"#000","strokeWidth":3},
"encoding":{"x":{"field":"grp","type":"nominal","title":null},"xOffset":{"field":"trt","type":"nominal"},"y":{"field":"lo","type":"quantitative"},"y2":{"field":"hi"}}},
{"data":{"name":"bars"},"transform":[{"filter":"datum.panel=='C'"}],"mark":{"type":"tick","orient":"horizontal","color":"#000","size":22,"thickness":3},
"encoding":{"x":{"field":"grp","type":"nominal","title":null},"xOffset":{"field":"trt","type":"nominal"},"y":{"field":"hi","type":"quantitative"}}},
{"data":{"name":"bars"},"transform":[{"filter":"datum.panel=='C'"}],"mark":{"type":"tick","orient":"horizontal","color":"#000","size":22,"thickness":3},
"encoding":{"x":{"field":"grp","type":"nominal","title":null},"xOffset":{"field":"trt","type":"nominal"},"y":{"field":"lo","type":"quantitative"}}},
{"data":{"name":"bars"},"transform":[{"filter":"datum.panel=='C'"}],"mark":{"type":"tick","orient":"vertical","color":"#000","size":9,"thickness":2.5,"yOffset":4.5},
"encoding":{"x":{"field":"grp","type":"nominal","title":null},"xOffset":{"field":"trt","type":"nominal"},"y":{"datum":0}}},
{"data":{"name":"ends"},"transform":[{"filter":"datum.panel=='C' && datum.a!='c'"}],"mark":{"type":"line","color":"#000","strokeWidth":2},
"encoding":{"x":{"field":"g","type":"nominal","title":null},"xOffset":{"field":"a","type":"nominal"},"y":{"field":"h","type":"quantitative"},"detail":{"field":"id"}}},
{"data":{"name":"ends"},"transform":[{"filter":"datum.panel=='C' && datum.a=='c'"}],"mark":{"type":"line","color":"#000","strokeWidth":2},
"encoding":{"x":{"field":"g","type":"nominal","title":null},"y":{"field":"h","type":"quantitative"},"detail":{"field":"id"}}},
{"data":{"name":"ends"},"transform":[{"filter":"datum.panel=='C' && datum.a!='c'"}],"mark":{"type":"tick","orient":"vertical","color":"#000","size":8,"thickness":2,"yOffset":4},
"encoding":{"x":{"field":"g","type":"nominal","title":null},"xOffset":{"field":"a","type":"nominal"},"y":{"field":"h","type":"quantitative"}}},
{"data":{"name":"ends"},"transform":[{"filter":"datum.panel=='C' && datum.a=='c'"}],"mark":{"type":"tick","orient":"vertical","color":"#000","size":8,"thickness":2,"yOffset":4},
"encoding":{"x":{"field":"g","type":"nominal","title":null},"y":{"field":"h","type":"quantitative"}}},
{"data":{"name":"labs"},"transform":[{"filter":"datum.panel=='C' && datum.lab=='ns'"}],"mark":{"type":"text","font":"Liberation Sans","fontSize":23,"color":"#000","baseline":"alphabetic","dy":-4},
"encoding":{"x":{"field":"g","type":"nominal","title":null},"y":{"field":"h","type":"quantitative"},"text":{"field":"lab"}}},
{"data":{"name":"labs"},"transform":[{"filter":"datum.panel=='C' && datum.lab!='ns' && datum.span=='in'"}],"mark":{"type":"text","font":"Liberation Sans","fontSize":30,"color":"#000","baseline":"alphabetic","dy":2},
"encoding":{"x":{"field":"g","type":"nominal","title":null},"y":{"field":"h","type":"quantitative"},"text":{"field":"lab"}}},
{"data":{"name":"labs"},"transform":[{"filter":"datum.panel=='C' && datum.span=='x' && datum.a=='c'"}],"mark":{"type":"text","font":"Liberation Sans","fontSize":30,"color":"#000","baseline":"alphabetic","dy":2,"dx":59.4},
"encoding":{"x":{"field":"g","type":"nominal","title":null},"y":{"field":"h","type":"quantitative"},"text":{"field":"lab"}}}
]},
{"width":503,"height":148,
"layer":[
{"data":{"name":"bars"},"transform":[{"filter":"datum.panel=='C'"}],"mark":{"type":"text","font":"Liberation Sans","fontWeight":"bold","fontSize":30,"color":"#000","baseline":"middle"},
"encoding":{"x":{"field":"grp","type":"nominal","axis":null,"scale":{"domain":["W0","W1","K0","K1"],"paddingInner":0.1915,"paddingOuter":0.2128,"align":0.653}},
"xOffset":{"field":"trt","type":"nominal","scale":{"domain":["−","+"],"paddingInner":0.1791,"paddingOuter":0}},
"y":{"datum":"r1","type":"nominal","scale":{"type":"point","domain":["r1","l1","r2","l2","r3","z1","z2","z3"],"padding":0.853,"align":0.931},"axis":{"title":null,"domain":false,"ticks":false,"labelExpr":"datum.value=='r1'?'MnCl₂:':datum.value=='r2'?'Doxo :':''","labelFontWeight":"bold","labelFontSize":29,"labelPadding":-17}},
"text":{"field":"trt"}}},
{"data":{"name":"bars"},"transform":[{"filter":"datum.panel=='C' && datum.trt=='−'"}],"mark":{"type":"tick","orient":"horizontal","color":"#000","size":96,"thickness":3},
"encoding":{"x":{"field":"grp","type":"nominal","axis":null},"y":{"datum":"l1","type":"nominal"}}},
{"data":{"name":"bars"},"transform":[{"filter":"datum.panel=='C' && datum.trt=='−'"}],"mark":{"type":"text","font":"Liberation Sans","fontWeight":"bold","fontSize":30,"color":"#000","baseline":"middle"},
"encoding":{"x":{"field":"grp","type":"nominal","axis":null},"y":{"datum":"r2","type":"nominal"},"text":{"field":"doxo"}}},
{"data":{"name":"genos"},"mark":{"type":"tick","orient":"horizontal","color":"#000","size":214.8,"thickness":3,"xOffset":59.4},
"encoding":{"x":{"field":"g1","type":"nominal","axis":null},"y":{"datum":"l2","type":"nominal"}}},
{"data":{"name":"genos"},"transform":[{"filter":"datum.geno=='WT'"}],"mark":{"type":"text","font":"Liberation Sans","fontWeight":"bold","fontSize":31,"color":"#000","baseline":"middle","dx":53},
"encoding":{"x":{"field":"g1","type":"nominal","axis":null},"y":{"datum":"r3","type":"nominal"},"text":{"field":"lab"}}},
{"data":{"name":"genos"},"transform":[{"filter":"datum.geno=='KO'"}],"mark":{"type":"text","font":"Liberation Sans","fontWeight":"bold","fontSize":31,"color":"#000","baseline":"middle","dx":42.4},
"encoding":{"x":{"field":"g1","type":"nominal","axis":null},"y":{"datum":"r3","type":"nominal"},"text":{"field":"lab"}}},
{"data":{"name":"genos"},"transform":[{"filter":"datum.geno=='KO'"}],"mark":{"type":"text","font":"Liberation Sans","fontWeight":"bold","fontSize":17,"color":"#000","baseline":"middle","align":"left","dx":77.4,"dy":-9},
"encoding":{"x":{"field":"g1","type":"nominal","axis":null},"y":{"datum":"r3","type":"nominal"},"text":{"field":"sup"}}}
]}
],
"config":{
"view":{"stroke":null},
"font":"Liberation Sans",
"title":{"font":"Liberation Sans","fontSize":30,"fontWeight":"bold","color":"#000","anchor":"start","frame":"bounds","offset":0,"dx":-12,"dy":20},
"axis":{"grid":false,"domainColor":"#000","tickColor":"#000","labelColor":"#000","titleColor":"#000","labelFont":"Liberation Sans","titleFont":"Liberation Sans"},
"axisX":{"labels":false,"ticks":false,"domainWidth":3},
"axisY":{"domainWidth":3,"tickWidth":2.5,"tickSize":6,"labelFontSize":28,"labelPadding":2,"titleFontSize":34,"titleFontWeight":"bold","titlePadding":8}
}
}
